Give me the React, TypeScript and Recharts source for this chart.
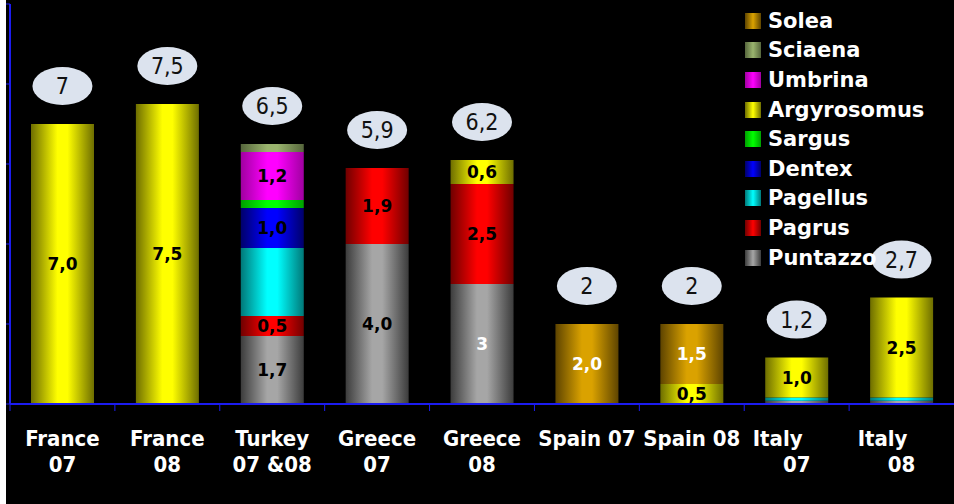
import { ComposedChart, Bar, Line, XAxis, YAxis, LabelList, Legend } from "recharts"

document.body.style.margin = "0"

const categories = [
  ["France", "07"],
  ["France", "08"],
  ["Turkey", "07 &08"],
  ["Greece", "07"],
  ["Greece", "08"],
  ["Spain 07"],
  ["Spain 08"],
  ["Italy", "07"],
  ["Italy", "08"]
]

// stacked from the bottom up
const puntazzo = [0, 0, 1.7, 4.0, 3.0, 0, 0, 0.08, 0.08]
const pagrus = [0, 0, 0.5, 1.9, 2.5, 0, 0, 0, 0]
const pagellus = [0, 0, 1.7, 0, 0, 0, 0, 0.08, 0.08]
const dentex = [0, 0, 1.0, 0, 0, 0, 0, 0, 0]
const sargus = [0, 0, 0.2, 0, 0, 0, 0, 0, 0]
const argyrosomus = [7.0, 7.5, 0, 0, 0.6, 0, 0.5, 1.0, 2.5]
const umbrina = [0, 0, 1.2, 0, 0, 0, 0, 0, 0]
const sciaena = [0, 0, 0.2, 0, 0, 0, 0, 0, 0]
const solea = [0, 0, 0, 0, 0, 2.0, 1.5, 0, 0]

const totalLabels = ["7", "7,5", "6,5", "5,9", "6,2", "2", "2", "1,2", "2,7"]

// text printed inside the segments ("" = none)
const segmentLabels: Record<string, string[]> = {
  Puntazzo: ["", "", "1,7", "4,0", "3", "", "", "", ""],
  Pagrus: ["", "", "0,5", "1,9", "2,5", "", "", "", ""],
  Dentex: ["", "", "1,0", "", "", "", "", "", ""],
  Argyrosomus: ["7,0", "7,5", "", "", "0,6", "", "0,5", "1,0", "2,5"],
  Umbrina: ["", "", "1,2", "", "", "", "", "", ""],
  Solea: ["", "", "", "", "", "2,0", "1,5", "", ""]
}
const whiteLabels = ["Puntazzo-4", "Solea-5", "Solea-6"]

const series = [
  { name: "Puntazzo", values: puntazzo, light: "#a6a6a6", dark: "#3c3c3c" },
  { name: "Pagrus", values: pagrus, light: "#ff0000", dark: "#700000" },
  { name: "Pagellus", values: pagellus, light: "#00ffff", dark: "#007878" },
  { name: "Dentex", values: dentex, light: "#0000ff", dark: "#00006a" },
  { name: "Sargus", values: sargus, light: "#00ff00", dark: "#00a000" },
  { name: "Argyrosomus", values: argyrosomus, light: "#ffff00", dark: "#6e6e00" },
  { name: "Umbrina", values: umbrina, light: "#ff00ff", dark: "#a000a0" },
  { name: "Sciaena", values: sciaena, light: "#9ab46e", dark: "#56663c" },
  { name: "Solea", values: solea, light: "#daa200", dark: "#5e4400" }
]

const data = categories.map((c, i) => {
  const row: Record<string, number | string> = { name: c.join(" ") }
  let total = 0
  series.forEach(s => {
    row[s.name] = s.values[i]
    total += s.values[i]
    const txt = segmentLabels[s.name]?.[i] ?? ""
    const white = whiteLabels.includes(`${s.name}-${i}`)
    row[`b_${s.name}`] = white ? "" : txt
    row[`w_${s.name}`] = white ? txt : ""
  })
  row.total = total
  return row
})

const W = 948
const H = 504
const STEP = (W - 4) / categories.length
const BLUE = "#1c1cf0"

function CategoryTick(props: any) {
  const { x, y, index } = props
  const lines = categories[index]
  const left = x - STEP / 2
  return (
    <g>
      <line x1={left} y1={y} x2={left} y2={y + 7} stroke={BLUE} strokeWidth={1} />
      {lines.map((t, i) => (
        <text
          key={i}
          x={x + (t === "Italy" ? -19 : 0)}
          y={y + 42 + i * 26}
          textAnchor="middle"
          fill="#fff"
          fontFamily="'DejaVu Sans Condensed', 'DejaVu Sans', sans-serif"
          fontWeight="bold"
          fontSize={22}
        >
          {t}
        </text>
      ))}
    </g>
  )
}

function TotalBubble(props: any) {
  const { cx, cy, index } = props
  if (cx == null || cy == null) return <g key={index} />
  const by = cy - 38
  return (
    <g key={index}>
      <ellipse cx={cx} cy={by} rx={30} ry={19} fill="#dce3ee" />
      <text
        x={cx}
        y={by + 8}
        textAnchor="middle"
        fill="#111"
        fontFamily="'DejaVu Sans Condensed', 'DejaVu Sans', sans-serif"
        fontSize={23}
      >
        {totalLabels[index]}
      </text>
    </g>
  )
}

const segmentText = (color: string) => (p: any) => {
  if (!p.value) return null
  return (
    <text
      x={p.x + p.width / 2}
      y={p.y + p.height / 2 + 6}
      textAnchor="middle"
      fill={color}
      fontFamily="'DejaVu Sans', sans-serif"
      fontWeight="bold"
      fontSize={17}
    >
      {p.value}
    </text>
  )
}

function FishLegend() {
  return (
    <div style={{ fontFamily: "'DejaVu Sans', sans-serif" }}>
      {[...series].reverse().map(s => (
        <div key={s.name} style={{ display: "flex", alignItems: "center", height: 29.6 }}>
          <div
            style={{
              width: 16,
              height: 16,
              marginRight: 7,
              background: `linear-gradient(to right, ${s.dark}, ${s.light}, ${s.dark})`
            }}
          />
          <span style={{ color: "#fff", fontWeight: "bold", fontSize: 21 }}>{s.name}</span>
        </div>
      ))}
    </div>
  )
}

export default function App() {
  return (
    <div style={{ width: 954, height: H, background: "#fff", position: "relative" }}>
      <div style={{ position: "absolute", left: 6, top: 0, width: W, height: H, background: "#000" }}>
        <ComposedChart
          width={W}
          height={H}
          data={data}
          margin={{ top: 4, right: 0, bottom: 0, left: 0 }}
          barSize={63}
        >
          <defs>
            {series.map(s => (
              <linearGradient key={s.name} id={`g-${s.name}`} x1="0" y1="0" x2="1" y2="0">
                <stop offset="0%" stopColor={s.dark} />
                <stop offset="42%" stopColor={s.light} />
                <stop offset="58%" stopColor={s.light} />
                <stop offset="100%" stopColor={s.dark} />
              </linearGradient>
            ))}
          </defs>
          <XAxis
            dataKey="name"
            height={100}
            axisLine={{ stroke: BLUE, strokeWidth: 2 }}
            tickLine={false}
            tickSize={0}
            tickMargin={0}
            interval={0}
            tick={<CategoryTick />}
          />
          <YAxis
            width={4}
            domain={[0, 10]}
            ticks={[0, 2, 4, 6, 8, 10]}
            axisLine={{ stroke: BLUE, strokeWidth: 2 }}
            tickLine={{ stroke: BLUE }}
            tickSize={4}
            tick={() => <g />}
          />
          <Legend
            layout="vertical"
            align="center"
            verticalAlign="middle"
            content={<FishLegend />}
            wrapperStyle={{ left: 739, top: 6, width: 210, height: 270 }}
          />
          {series.map(s => (
            <Bar
              key={s.name}
              dataKey={s.name}
              stackId="fish"
              fill={`url(#g-${s.name})`}
              isAnimationActive={false}
            >
              <LabelList dataKey={`b_${s.name}`} content={segmentText("#000")} />
              <LabelList dataKey={`w_${s.name}`} content={segmentText("#fff")} />
            </Bar>
          ))}
          <Line
            dataKey="total"
            stroke="none"
            dot={(p: any) => <TotalBubble key={p.index} {...p} />}
            activeDot={false}
            legendType="none"
            isAnimationActive={false}
          />
        </ComposedChart>
      </div>
    </div>
  )
}
